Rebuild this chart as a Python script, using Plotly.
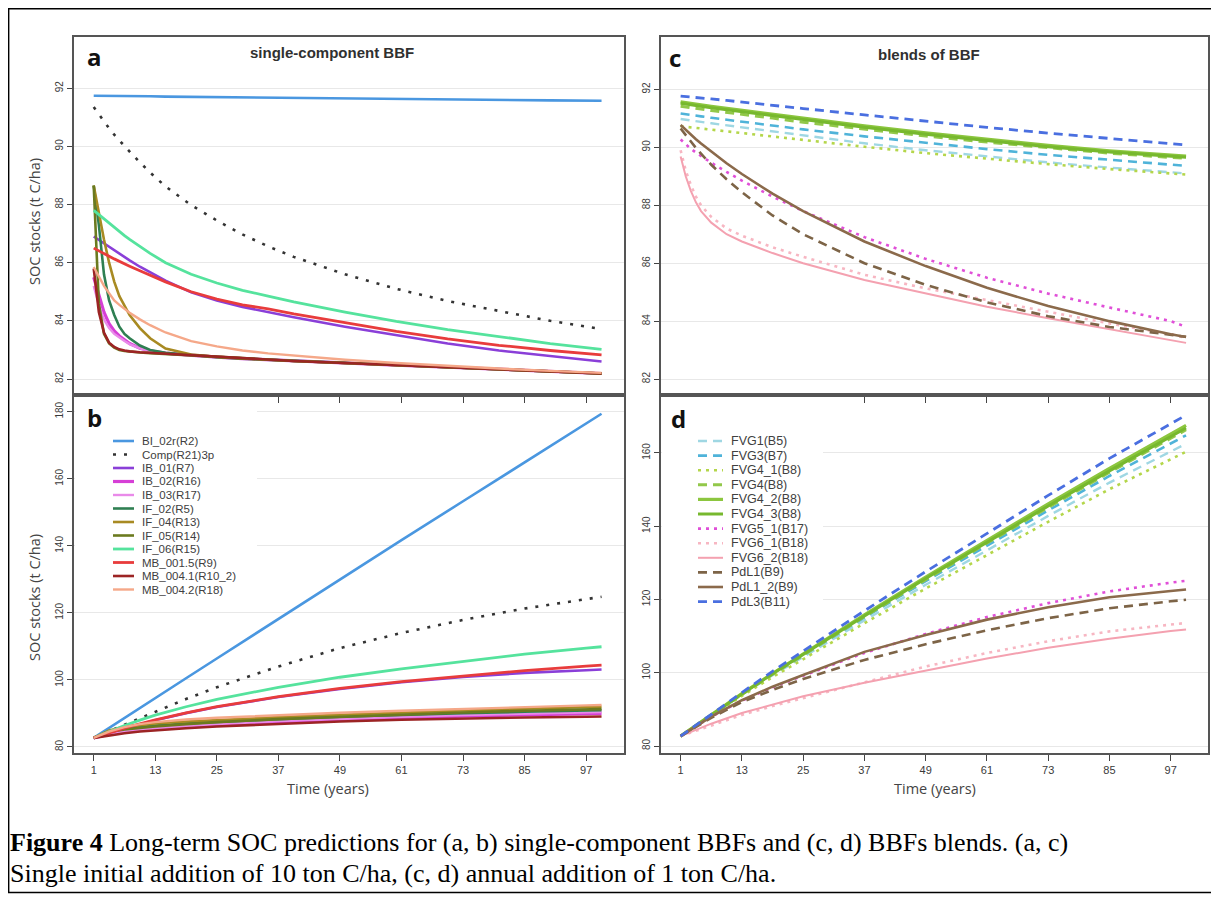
import plotly.graph_objects as go

# The page body keeps its default 8px margin, so the figure is drawn 8px in
# from the top-left corner of the 1219x899 window.
OFF = 8
W, H = 1219 - OFF, 899 - OFF

# ---------------- DATA ----------------
YEAR_TICKS = [1, 13, 25, 37, 49, 61, 73, 85, 97]

# Panel a: single initial addition (single-component BBF)
YEARS_A = [1, 2, 3, 4, 5, 6, 7, 8, 10, 12, 15, 20, 25, 30, 35, 40, 50, 60, 70, 80, 90, 100]
A_BI_02r = [91.74, 91.74, 91.74, 91.73, 91.73, 91.73, 91.73, 91.73, 91.72, 91.72, 91.71, 91.70, 91.69, 91.68, 91.67, 91.66, 91.65, 91.63, 91.61, 91.60, 91.58, 91.57]
A_Comp = [91.35, 91.10, 90.85, 90.62, 90.40, 90.20, 90.00, 89.82, 89.45, 89.10, 88.62, 87.98, 87.45, 86.97, 86.56, 86.20, 85.60, 85.10, 84.68, 84.33, 84.00, 83.72]
A_IB_01 = [86.90, 86.78, 86.66, 86.54, 86.42, 86.30, 86.19, 86.08, 85.86, 85.66, 85.38, 84.98, 84.70, 84.48, 84.30, 84.12, 83.80, 83.50, 83.22, 82.98, 82.78, 82.60]
A_IB_02 = [85.50, 84.90, 84.30, 83.90, 83.65, 83.48, 83.35, 83.22, 83.06, 82.97, 82.89, 82.81, 82.75, 82.70, 82.66, 82.62, 82.55, 82.48, 82.41, 82.34, 82.26, 82.19]
A_IB_03 = [85.20, 84.55, 84.05, 83.75, 83.55, 83.42, 83.31, 83.20, 83.05, 82.96, 82.88, 82.80, 82.75, 82.70, 82.66, 82.62, 82.55, 82.48, 82.41, 82.34, 82.26, 82.19]
A_IF_02 = [88.65, 87.30, 85.60, 84.70, 84.20, 83.80, 83.55, 83.40, 83.15, 83.00, 82.90, 82.82, 82.75, 82.70, 82.66, 82.62, 82.55, 82.48, 82.41, 82.34, 82.26, 82.19]
A_IF_04 = [88.65, 87.70, 86.80, 86.00, 85.35, 84.85, 84.50, 84.20, 83.75, 83.40, 83.05, 82.84, 82.76, 82.70, 82.66, 82.62, 82.55, 82.48, 82.41, 82.34, 82.26, 82.19]
A_IF_05 = [88.65, 84.60, 83.55, 83.22, 83.08, 83.00, 82.96, 82.94, 82.91, 82.89, 82.86, 82.81, 82.75, 82.70, 82.66, 82.62, 82.55, 82.48, 82.41, 82.34, 82.26, 82.19]
A_IF_06 = [87.80, 87.65, 87.50, 87.35, 87.20, 87.06, 86.93, 86.80, 86.55, 86.32, 86.00, 85.60, 85.30, 85.05, 84.85, 84.65, 84.30, 83.98, 83.70, 83.45, 83.22, 83.02]
A_MB_001_5 = [86.50, 86.40, 86.31, 86.22, 86.13, 86.04, 85.96, 85.88, 85.72, 85.57, 85.34, 85.00, 84.75, 84.55, 84.41, 84.24, 83.93, 83.64, 83.38, 83.16, 82.98, 82.83]
A_MB_004_1 = [85.80, 84.30, 83.60, 83.25, 83.10, 83.02, 82.98, 82.95, 82.92, 82.90, 82.86, 82.80, 82.75, 82.70, 82.66, 82.62, 82.55, 82.48, 82.41, 82.34, 82.26, 82.19]
A_MB_004_2 = [85.85, 85.50, 85.20, 84.95, 84.70, 84.55, 84.40, 84.28, 84.05, 83.85, 83.60, 83.30, 83.12, 82.98, 82.88, 82.80, 82.66, 82.55, 82.45, 82.36, 82.28, 82.21]

# Panel b: annual addition (single-component BBF)
YEARS_B = [1, 4, 7, 10, 13, 19, 25, 37, 49, 61, 73, 85, 97, 100]
B_BI_02r = [82.7, 85.7, 88.7, 91.6, 94.6, 100.5, 106.4, 118.2, 130.0, 141.7, 153.3, 164.9, 176.5, 179.4]
B_Comp = [82.8, 84.75, 86.7, 88.65, 90.6, 94.3, 97.8, 104.0, 109.5, 114.0, 117.9, 121.3, 124.1, 124.8]
B_IB_01 = [82.7, 84.1, 85.5, 86.8, 88.0, 90.1, 91.9, 94.9, 97.3, 99.3, 100.9, 102.1, 102.9, 103.1]
B_IB_02 = [82.7, 83.8, 84.5, 85.0, 85.4, 86.1, 86.6, 87.4, 88.1, 88.7, 89.2, 89.6, 89.9, 90.0]
B_IB_03 = [82.7, 83.9, 84.6, 85.1, 85.5, 86.2, 86.8, 87.7, 88.4, 89.0, 89.5, 89.9, 90.3, 90.4]
B_IF_02 = [82.7, 84.6, 85.5, 86.0, 86.4, 87.0, 87.5, 88.3, 89.0, 89.6, 90.1, 90.5, 90.9, 91.0]
B_IF_04 = [82.7, 84.9, 86.0, 86.6, 87.0, 87.6, 88.1, 88.9, 89.6, 90.3, 90.9, 91.4, 91.9, 92.0]
B_IF_05 = [82.7, 84.5, 85.2, 85.7, 86.1, 86.8, 87.4, 88.3, 89.0, 89.7, 90.3, 90.8, 91.2, 91.3]
B_IF_06 = [82.7, 84.6, 86.4, 88.0, 89.5, 92.0, 94.2, 97.8, 100.8, 103.3, 105.6, 107.7, 109.5, 109.9]
B_MB_001_5 = [82.7, 84.2, 85.6, 86.9, 88.1, 90.2, 92.0, 95.0, 97.5, 99.5, 101.2, 102.8, 104.1, 104.4]
B_MB_004_1 = [82.7, 83.5, 84.1, 84.6, 85.0, 85.6, 86.1, 86.9, 87.6, 88.1, 88.5, 88.8, 89.0, 89.1]
B_MB_004_2 = [82.7, 84.6, 85.9, 86.8, 87.4, 88.2, 88.7, 89.5, 90.2, 90.8, 91.4, 91.9, 92.4, 92.5]

# Panel c: single initial addition (blends of BBF)
YEARS_C = [1, 2, 3, 4, 5, 7, 10, 13, 19, 25, 37, 49, 61, 73, 85, 97, 100]
C_FVG1 = [90.98, 90.96, 90.93, 90.91, 90.88, 90.83, 90.76, 90.68, 90.54, 90.40, 90.14, 89.90, 89.68, 89.48, 89.30, 89.14, 89.10]
C_FVG3 = [91.17, 91.15, 91.12, 91.10, 91.07, 91.02, 90.95, 90.88, 90.75, 90.62, 90.38, 90.15, 89.94, 89.74, 89.56, 89.40, 89.36]
C_FVG4_1 = [90.73, 90.71, 90.69, 90.67, 90.65, 90.61, 90.55, 90.49, 90.37, 90.25, 90.02, 89.80, 89.60, 89.42, 89.25, 89.10, 89.06]
C_FVG4 = [91.42, 91.40, 91.37, 91.35, 91.32, 91.27, 91.21, 91.14, 91.01, 90.87, 90.62, 90.39, 90.18, 89.98, 89.80, 89.65, 89.62]
C_FVG4_2 = [91.57, 91.55, 91.52, 91.50, 91.47, 91.42, 91.35, 91.28, 91.14, 91.00, 90.74, 90.50, 90.28, 90.07, 89.88, 89.73, 89.70]
C_FVG4_3 = [91.52, 91.50, 91.47, 91.45, 91.42, 91.37, 91.30, 91.23, 91.09, 90.95, 90.69, 90.45, 90.23, 90.02, 89.84, 89.69, 89.66]
C_FVG5_1 = [90.27, 90.10, 89.95, 89.82, 89.70, 89.47, 89.15, 88.85, 88.30, 87.80, 86.90, 86.15, 85.50, 84.95, 84.47, 84.00, 83.80]
C_FVG6_1 = [89.90, 89.20, 88.70, 88.30, 88.00, 87.60, 87.20, 86.95, 86.55, 86.22, 85.60, 85.13, 84.73, 84.32, 83.92, 83.55, 83.42]
C_FVG6_2 = [89.68, 89.00, 88.50, 88.10, 87.80, 87.40, 87.00, 86.75, 86.35, 86.00, 85.42, 84.96, 84.50, 84.10, 83.72, 83.35, 83.25]
C_PdL1 = [90.65, 90.42, 90.20, 89.98, 89.78, 89.40, 88.90, 88.45, 87.65, 87.00, 86.00, 85.25, 84.65, 84.17, 83.80, 83.52, 83.46]
C_PdL1_2 = [90.77, 90.60, 90.44, 90.28, 90.13, 89.85, 89.45, 89.08, 88.40, 87.80, 86.75, 85.90, 85.15, 84.52, 84.00, 83.55, 83.45]
C_PdL3 = [91.77, 91.75, 91.74, 91.72, 91.70, 91.67, 91.62, 91.56, 91.45, 91.34, 91.12, 90.90, 90.69, 90.49, 90.30, 90.13, 90.08]

# Panel d: annual addition (blends of BBF)
YEARS_D = [1, 7, 13, 19, 25, 37, 49, 61, 73, 85, 97, 100]
D_FVG1 = [82.7, 88.4, 94.0, 99.3, 104.3, 114.3, 124.0, 133.5, 142.8, 151.9, 160.4, 162.5]
D_FVG3 = [82.7, 88.5, 94.2, 99.6, 104.8, 115.1, 125.0, 134.7, 144.3, 153.7, 162.6, 164.8]
D_FVG4_1 = [82.7, 88.3, 93.7, 98.8, 103.7, 113.5, 123.0, 132.2, 141.2, 150.1, 158.3, 160.3]
D_FVG4 = [82.7, 88.5, 94.1, 99.6, 104.9, 115.3, 125.4, 135.4, 145.1, 154.7, 164.0, 166.3]
D_FVG4_2 = [82.7, 88.6, 94.3, 99.8, 105.2, 115.8, 126.1, 136.2, 146.1, 155.8, 165.2, 167.5]
D_FVG4_3 = [82.7, 88.55, 94.2, 99.7, 105.0, 115.5, 125.7, 135.7, 145.5, 155.1, 164.5, 166.8]
D_FVG5_1 = [82.7, 88.0, 92.4, 96.0, 99.2, 105.4, 110.6, 115.2, 119.0, 122.2, 124.6, 125.1]
D_FVG6_1 = [82.7, 85.7, 88.5, 90.9, 93.1, 97.5, 101.7, 105.4, 108.6, 111.3, 113.2, 113.6]
D_FVG6_2 = [82.7, 86.1, 89.0, 91.4, 93.6, 97.3, 100.7, 103.9, 106.8, 109.3, 111.4, 111.8]
D_PdL1 = [82.7, 87.7, 92.0, 95.3, 98.3, 103.5, 107.8, 111.6, 114.9, 117.6, 119.5, 119.9]
D_PdL1_2 = [82.7, 88.0, 92.5, 96.2, 99.4, 105.7, 110.3, 114.5, 117.9, 120.6, 122.3, 122.7]
D_PdL3 = [82.7, 88.7, 94.6, 100.4, 105.9, 116.9, 127.6, 138.1, 148.4, 158.5, 168.0, 170.3]

SINGLE_NAMES = ["BI_02r(R2)", "Comp(R21)3p", "IB_01(R7)", "IB_02(R16)", "IB_03(R17)",
                "IF_02(R5)", "IF_04(R13)", "IF_05(R14)", "IF_06(R15)", "MB_001.5(R9)",
                "MB_004.1(R10_2)", "MB_004.2(R18)"]
BLEND_NAMES = ["FVG1(B5)", "FVG3(B7)", "FVG4_1(B8)", "FVG4(B8)", "FVG4_2(B8)", "FVG4_3(B8)",
               "FVG5_1(B17)", "FVG6_1(B18)", "FVG6_2(B18)", "PdL1(B9)", "PdL1_2(B9)", "PdL3(B11)"]

SERIES_A = [A_BI_02r, A_Comp, A_IB_01, A_IB_02, A_IB_03, A_IF_02, A_IF_04, A_IF_05, A_IF_06, A_MB_001_5, A_MB_004_1, A_MB_004_2]
SERIES_B = [B_BI_02r, B_Comp, B_IB_01, B_IB_02, B_IB_03, B_IF_02, B_IF_04, B_IF_05, B_IF_06, B_MB_001_5, B_MB_004_1, B_MB_004_2]
SERIES_C = [C_FVG1, C_FVG3, C_FVG4_1, C_FVG4, C_FVG4_2, C_FVG4_3, C_FVG5_1, C_FVG6_1, C_FVG6_2, C_PdL1, C_PdL1_2, C_PdL3]
SERIES_D = [D_FVG1, D_FVG3, D_FVG4_1, D_FVG4, D_FVG4_2, D_FVG4_3, D_FVG5_1, D_FVG6_1, D_FVG6_2, D_PdL1, D_PdL1_2, D_PdL3]

# ---------------- STYLES ----------------
SOLID = "solid"
DASH = "9px,6px"
DOT_WIDE = "3px,8px"
DOT = "3px,5px"

SINGLE_STYLES = [
    ("#4a97e0", SOLID, 2.6),
    ("#333333", DOT_WIDE, 2.6),
    ("#8a3fd8", SOLID, 2.6),
    ("#d63fd6", SOLID, 3.2),
    ("#e98ae9", SOLID, 2.4),
    ("#2f7f52", SOLID, 2.6),
    ("#a88a22", SOLID, 2.6),
    ("#6b7a1f", SOLID, 2.6),
    ("#55e39d", SOLID, 2.8),
    ("#e83c3c", SOLID, 2.8),
    ("#9c2424", SOLID, 2.6),
    ("#f5a889", SOLID, 2.4),
]
BLEND_STYLES = [
    ("#9fd7e3", DASH, 2.4),
    ("#4fb3d9", DASH, 2.6),
    ("#b4d64a", DOT, 2.6),
    ("#92c84a", DASH, 3.0),
    ("#8cc63f", SOLID, 3.2),
    ("#77b82e", SOLID, 3.0),
    ("#e04fd8", DOT, 2.6),
    ("#f7b6c2", DOT, 2.6),
    ("#f4a1b0", SOLID, 2.0),
    ("#7d6447", DASH, 2.6),
    ("#8b6a4b", SOLID, 2.6),
    ("#4a6fe0", DASH, 2.8),
]

fig = go.Figure()

def add_panel(years, series, names, styles, xa, ya):
    for vals, name, (col, dash, wid) in zip(series, names, styles):
        fig.add_trace(go.Scatter(x=years, y=vals, mode="lines", name=name,
                                 line=dict(color=col, dash=dash, width=wid),
                                 xaxis=xa, yaxis=ya, showlegend=False,
                                 hoverinfo="skip"))

add_panel(YEARS_A, SERIES_A, SINGLE_NAMES, SINGLE_STYLES, "x", "y")
add_panel(YEARS_B, SERIES_B, SINGLE_NAMES, SINGLE_STYLES, "x2", "y2")
add_panel(YEARS_C, SERIES_C, BLEND_NAMES, BLEND_STYLES, "x3", "y3")
add_panel(YEARS_D, SERIES_D, BLEND_NAMES, BLEND_STYLES, "x4", "y4")

# ---------------- LAYOUT ----------------
def px(x):
    return (x - OFF) / W

def py(y):
    return 1 - (y - OFF) / H

LEFT_X = (73.5, 623.6)
RIGHT_X = (660.5, 1208.0)
TOP_Y = (36.7, 395.0)
BOT_Y = (395.0, 753.0)
XR = [-2.94, 104.3]

def xaxis(dom, labels):
    return dict(domain=[px(dom[0]), px(dom[1])], range=XR, tickmode="array",
                tickvals=YEAR_TICKS, ticktext=[str(v) for v in YEAR_TICKS],
                ticks="outside", ticklen=6, tickwidth=1.2, tickcolor="#444",
                showticklabels=labels,
                tickfont=dict(family="Liberation Sans", size=11, color="#3a3a3a"),
                showgrid=False, zeroline=False, showline=True, linecolor="#555",
                linewidth=1.6, mirror=True)

def yaxis(dom, rng, tvals, anchor):
    return dict(domain=[py(dom[1]), py(dom[0])], range=rng, tickmode="array",
                tickvals=tvals, ticks="outside", ticklen=5, tickwidth=1.2,
                tickcolor="#444", tickangle=-90,
                tickfont=dict(family="Liberation Sans", size=10, color="#3a3a3a"),
                showgrid=True, gridcolor="#e8e8e8", gridwidth=1, zeroline=False,
                showline=True, linecolor="#555", linewidth=1.6, mirror=True,
                anchor=anchor)

fig.update_layout(
    width=W, height=H, autosize=False,
    margin=dict(l=0, r=0, t=0, b=0, pad=0),
    paper_bgcolor="white", plot_bgcolor="white",
    showlegend=False,
    xaxis=dict(xaxis(LEFT_X, False), anchor="y"),
    yaxis=yaxis(TOP_Y, [81.45, 93.77], [82, 84, 86, 88, 90, 92], "x"),
    xaxis2=dict(xaxis(LEFT_X, True), anchor="y2"),
    yaxis2=yaxis(BOT_Y, [78.2, 185.0], [80, 100, 120, 140, 160, 180], "x2"),
    xaxis3=dict(xaxis(RIGHT_X, False), anchor="y3"),
    yaxis3=yaxis(TOP_Y, [81.45, 93.82], [82, 84, 86, 88, 90, 92], "x3"),
    xaxis4=dict(xaxis(RIGHT_X, True), anchor="y4"),
    yaxis4=yaxis(BOT_Y, [78.1, 175.8], [80, 100, 120, 140, 160], "x4"),
)

shapes = []
# outer frame of the figure
shapes.append(dict(type="rect", xref="paper", yref="paper", x0=px(8.6), x1=px(1212.5),
                   y0=py(892.5), y1=py(8.6), line=dict(color="black", width=1.6),
                   fillcolor="rgba(0,0,0,0)", layer="above"))

# legend backgrounds (white boxes hiding gridlines behind legends)
def legend_box(x0, x1, y0, y1):
    return dict(type="rect", xref="paper", yref="paper",
                x0=px(x0), x1=px(x1), y0=py(y1), y1=py(y0),
                line=dict(width=0), fillcolor="white", layer="above")

shapes.append(legend_box(LEFT_X[0] + 1.5, 257, BOT_Y[0] + 2, 603))
shapes.append(legend_box(RIGHT_X[0] + 1.5, 823, BOT_Y[0] + 2, 615))

annotations = []

def add_legend(names, styles, x_line0, x_line1, x_text, y0, step, fsize):
    for i, (name, (col, dash, wid)) in enumerate(zip(names, styles)):
        yy = y0 + i * step
        shapes.append(dict(type="line", xref="paper", yref="paper",
                           x0=px(x_line0), x1=px(x_line1), y0=py(yy), y1=py(yy),
                           line=dict(color=col, dash=dash, width=wid), layer="above"))
        annotations.append(dict(text=name, xref="paper", yref="paper", x=px(x_text), y=py(yy),
                                xanchor="left", yanchor="middle", showarrow=False, borderpad=0,
                                font=dict(family="Liberation Sans", size=fsize, color="#404040")))

add_legend(SINGLE_NAMES, SINGLE_STYLES, 113, 134, 141, 441, 13.5, 11.5)
add_legend(BLEND_NAMES, BLEND_STYLES, 698, 723, 730, 441, 14.6, 12.5)

def text(t, x, y, size, family="Liberation Sans", color="#333", bold=False, angle=0, xanchor="center"):
    annotations.append(dict(text=("<b>%s</b>" % t) if bold else t, xref="paper", yref="paper",
                            x=px(x), y=py(y), xanchor=xanchor, yanchor="middle", showarrow=False,
                            borderpad=0, textangle=angle,
                            font=dict(family=family, size=size, color=color)))

text("single-component BBF", 332, 53, 15, bold=True, color="#303030")
text("blends of BBF", 929, 55, 15, bold=True, color="#303030")
for lab, x, y in [("a", 94, 57), ("b", 94, 417), ("c", 675, 58), ("d", 678, 418)]:
    text(lab, x, y, 24, family="Open Sans", color="#111", bold=True)
text("SOC stocks (t C/ha)", 34, 222, 14.5, family="Open Sans", color="#444", angle=-90)
text("SOC stocks (t C/ha)", 34, 598, 14.5, family="Open Sans", color="#444", angle=-90)
text("Time (years)", 328, 788, 14.5, family="Open Sans", color="#444")
text("Time (years)", 935, 788, 14.5, family="Open Sans", color="#444")

text("<b>Figure 4</b> Long-term SOC predictions for (a, b) single-component BBFs and (c, d) BBFs blends. (a, c)",
     9, 842, 26, family="Liberation Serif", color="#000", xanchor="left")
text("Single initial addition of 10 ton C/ha, (c, d) annual addition of 1 ton C/ha.",
     9, 873, 26, family="Liberation Serif", color="#000", xanchor="left")

fig.update_layout(shapes=shapes, annotations=annotations)

fig.write_html("out.html")
